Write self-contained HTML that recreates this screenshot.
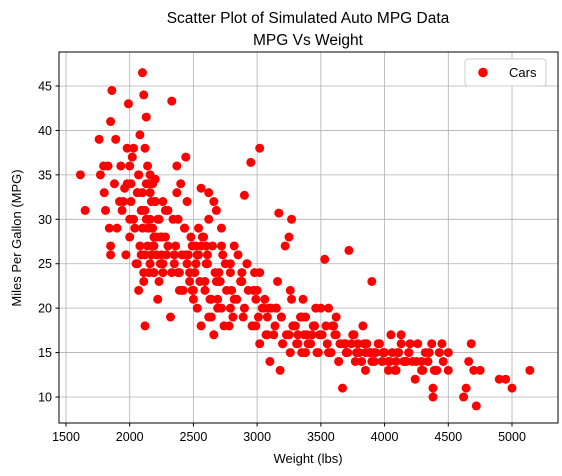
<!DOCTYPE html>
<html><head><meta charset="utf-8"><style>
body{margin:0;background:#fff;}
svg{display:block;font-family:"Liberation Sans","DejaVu Sans",sans-serif;}
</style></head><body>
<svg id="chart" width="562" height="476">
<text x="308" y="23" text-anchor="middle" font-size="15.5">Scatter Plot of Simulated Auto MPG Data</text>
<text x="308" y="45" text-anchor="middle" font-size="15.5">MPG Vs Weight</text>
<g id="grid"></g>
<g id="points"></g>
<rect x="59" y="52" width="499" height="371" fill="none" stroke="#000" stroke-width="1"/>
<g id="ticks"></g>
<text x="308" y="463" text-anchor="middle" font-size="13">Weight (lbs)</text>
<text transform="translate(21,238) rotate(-90)" text-anchor="middle" font-size="13">Miles Per Gallon (MPG)</text>
<g>
<rect x="465" y="59" width="81" height="27" rx="3" fill="#fff" stroke="#ccc"/>
<circle cx="483" cy="72.5" r="4.8" fill="#ff0000"/>
<text x="509" y="77" font-size="13">Cars</text>
</g>
</svg>
<script>
const xTicks=[1500,2000,2500,3000,3500,4000,4500,5000];
const yTicks=[10,15,20,25,30,35,40,45];
const weights=[1613,1650,1760,1770,1795,1800,1810,1830,1840,1850,1850,1850,1860,1880,1890,1900,1920,1930,1940,1960,1970,1980,1990,2000,2000,2010,2020,2030,2040,2050,2060,2070,2080,2100,2110,2120,2130,2120,2140,2150,2160,2170,2180,2190,2200,2210,2220,2230,2250,2260,2280,2300,2320,2330,2350,2370,2380,2400,2420,2440,2460,2480,2500,2520,2540,2560,2580,2600,2620,2640,2660,2680,2700,2720,2750,2780,2800,2820,2850,2880,2900,2920,2950,2980,3020,3000,3050,3080,3100,3150,3170,3180,3200,3220,3250,3270,3270,3300,3320,3350,3380,3400,3430,3450,3500,3530,3560,3600,3620,3650,3670,3700,3720,3750,3800,3850,3900,3900,3950,4000,4050,4080,4100,4150,4200,4250,4300,4350,4380,4380,4400,4450,4500,4500,4620,4640,4660,4680,4700,4720,4750,4900,4950,5000,5140,
1950,1980,2000,2030,2060,2080,2100,2110,2130,2150,2170,2200,2220,2240,2260,2300,2330,2360,2390,2410,2430,2450,2470,2490,2510,2530,2550,2570,2590,2610,2630,2650,2670,2690,2710,2730,2760,2790,2810,2840,2870,2900,2930,2960,2990,3010,3040,3070,3110,3140,3190,3230,3280,3310,3340,3370,3410,3440,3470,3510,3550,3580,3610,3640,3680,3710,3740,3780,3820,3860,3880,3920,3960,3990,4030,4060,4090,4130,4160,4190,4220,4260,4290,4320,4340,4370,4410,4430,4460,4130,3830,3760,3690,3450,3350,3250,3150,3060,2970,2880,2790,2700,2610,2520,2430,2340,2250,2160,2070,2010,2090,2190,2290,2390,2490,2590,2690,2790,2890,2990,3090,3190,3290,3390,3490,3590,3690,3790,3890,3990,4090,4190,4290,4390,4170,4240,4030,3930,3840,3620,3540,3460,3360,3260,3160,3020,2920,2820,2720,2620,2540,2450,2370,2280,2180,2140,2060,
2100,2120,2140,2160,2180,2200,2230,2250,2120,2150,2170,2190,2210,2240,2260,2100,2130,2160,2190,2070,2090,2110,2350,2380,2410,2440,2470,2500,2530,2560,2600,2640,2680,2720,2560,2620,2660,2740,3020,3080,3130,3200,3260,3320,3380,3420,3480,3560,3640,3700,3770,3850,3920,3980,4040,4110,4180,4230,4310,4360,4420];
const mpgs=[35,31,39,35,36,33,31,36,29,41,27,26,44.5,34,39,29,32,36,31,33.5,26,38,43,36,30,32,37,38,29,25,33,35,39.5,46.5,44,38,41.5,18,36,34,30,32,27,24,34.5,26,21,23,26,32,28,27,19,43.3,26,36,30,34,22,37,26,28,21,25,29,33.5,28,27,33,19,32,31,24,27,25,18,22,21,26,23,32.7,25,36.4,24,38,22,20,19,14,20,30.7,13,16,27,28,30,21,18,17,15,19,16,17,18,20,25.5,20,18,19,16,11,15,26.5,17,15,13,14,23,16,15,17,13,15,14,16,14,13,15,11,10,13,16,15,13,10,11,14,16,13,9,13,12,12,11,13,
32,34,28,30,33,27,31,24,34,29,26,32,30,28,25,31,24,27,22,26,29,25,23,27,24,26,23,28,22,25,21,27,24,20,23,26,22,24,19,21,23,20,22,18,21,19,20,17,20,18,19,17,18,16,19,17,16,18,15,17,16,15,17,14,16,15,16,15,14,16,15,14,16,15,14,15,13,16,14,15,14,16,13,15,14,16,13,15,14,17,18,17,16,18,19,17,20,21,22,24,25,23,26,27,29,30,28,33,35,34,31,28,26,24,22,23,21,20,19,18,20,19,18,17,17,18,16,16,15,15,14,15,14,13,14,12,13,15,16,17,18,20,21,22,23,24,25,27,29,30,26,32,
33,31,29,27,25,33,31,29,35,34,32,30,28,26,24,26,27,28,25,24,29,30,25,24,22,26,23,25,24,22,26,24,22,20,27,25,21,23,20,18,19,17,18,16,17,17,16,15,16,15,16,15,15,14,15,14,15,15,14,14,15];
const X0=1500,PX0=66,KX=0.12743;
const Y0=45,PY0=86,KY=8.886;
function xs(v){return PX0+(v-X0)*KX;}
function ys(v){return PY0+(Y0-v)*KY;}
const NS='http://www.w3.org/2000/svg';
const grid=document.getElementById('grid'),ticks=document.getElementById('ticks'),pts=document.getElementById('points');
function mk(t,a){const e=document.createElementNS(NS,t);for(const k in a)e.setAttribute(k,a[k]);return e;}
xTicks.forEach(v=>{const x=xs(v);
 const g=mk('line',{x1:x,x2:x,y1:52,y2:423,stroke:'#b0b0b0','stroke-width':0.8});
 
 grid.appendChild(g);
 const t=mk('line',{x1:x,x2:x,y1:423,y2:426.5,stroke:'#000'});
 
 ticks.appendChild(t);
 const l=mk('text',{x:x,y:441,'text-anchor':'middle','font-size':12.5});l.textContent=v;
 
 ticks.appendChild(l);});
yTicks.forEach(v=>{const y=ys(v);
 const g=mk('line',{x1:59,x2:558,y1:y,y2:y,stroke:'#b0b0b0','stroke-width':0.8});
 
 grid.appendChild(g);
 const t=mk('line',{x1:55.5,x2:59,y1:y,y2:y,stroke:'#000'});
 
 ticks.appendChild(t);
 const l=mk('text',{x:52,y:y+4.5,'text-anchor':'end','font-size':12.5});l.textContent=v;
 
 ticks.appendChild(l);});
const n=Math.min(weights.length,mpgs.length);
for(let i=0;i<n;i++){
 const c=mk('circle',{cx:xs(weights[i]),cy:ys(mpgs[i]),r:4.5,fill:'#ff0000'});
 
 
 pts.appendChild(c);}
</script>
</body></html>
